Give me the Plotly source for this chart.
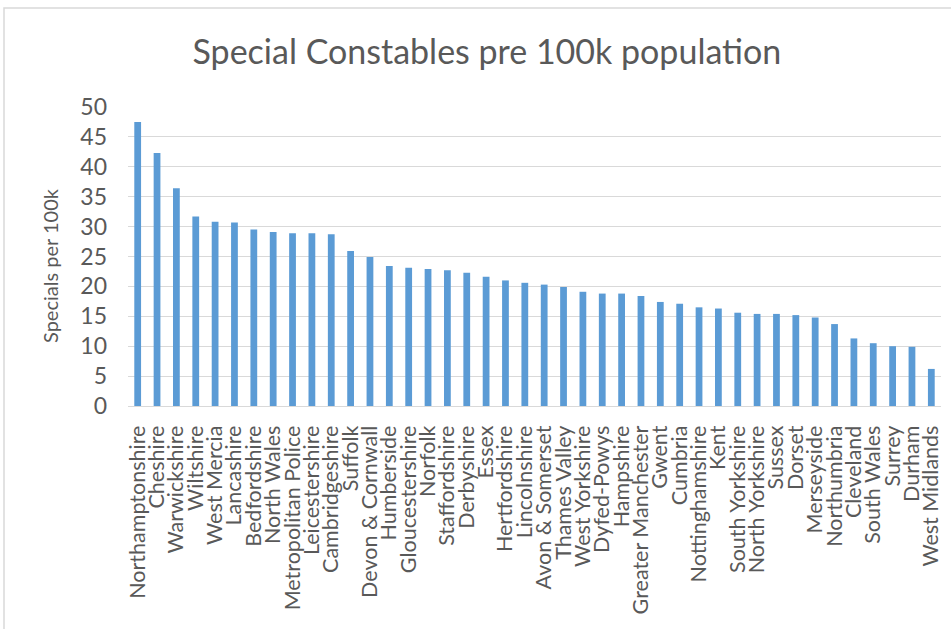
import plotly.graph_objects as go

# Police force areas, ordered from highest to lowest rate
forces = [
    "Northamptonshire", "Cheshire", "Warwickshire", "Wiltshire", "West Mercia",
    "Lancashire", "Bedfordshire", "North Wales", "Metropolitan Police",
    "Leicestershire", "Cambridgeshire", "Suffolk", "Devon & Cornwall",
    "Humberside", "Gloucestershire", "Norfolk", "Staffordshire", "Derbyshire",
    "Essex", "Hertfordshire", "Lincolnshire", "Avon & Somerset", "Thames Valley",
    "West Yorkshire", "Dyfed-Powys", "Hampshire", "Greater Manchester", "Gwent",
    "Cumbria", "Nottinghamshire", "Kent", "South Yorkshire", "North Yorkshire",
    "Sussex", "Dorset", "Merseyside", "Northumbria", "Cleveland", "South Wales",
    "Surrey", "Durham", "West Midlands",
]

# Special constables per 100k population
specials_per_100k = [
    47.5, 42.3, 36.4, 31.7, 30.8,
    30.7, 29.5, 29.1, 28.9,
    28.9, 28.7, 25.9, 24.9,
    23.4, 23.1, 22.9, 22.7, 22.3,
    21.6, 21.0, 20.6, 20.3, 19.9,
    19.1, 18.8, 18.8, 18.4, 17.4,
    17.1, 16.5, 16.3, 15.6, 15.4,
    15.4, 15.2, 14.8, 13.7, 11.3, 10.5,
    10.0, 9.9, 6.2,
]

y_ticks = [0, 5, 10, 15, 20, 25, 30, 35, 40, 45, 50]

TEXT = "#595959"
GRID = "#d9d9d9"
BAR = "#5b9bd5"
FONT = "Lato, 'Open Sans', sans-serif"

# Plot-area geometry in pixels, used for the frame and the axis title
PLOT_L, PLOT_R, PLOT_T, PLOT_B = 128, 941, 107, 406
PLOT_W, PLOT_H = PLOT_R - PLOT_L, PLOT_B - PLOT_T

fig = go.Figure(
    go.Bar(
        x=forces,
        y=specials_per_100k,
        marker=dict(color=BAR, line=dict(width=0)),
    )
)

fig.update_layout(
    width=951,
    height=629,
    margin=dict(l=PLOT_L, r=951 - PLOT_R, t=PLOT_T, b=629 - PLOT_B, autoexpand=False),
    paper_bgcolor="white",
    plot_bgcolor="white",
    bargap=0.65,
    showlegend=False,
    font=dict(family=FONT, color=TEXT),
    title=dict(
        text="Special Constables pre 100k population",
        font=dict(family=FONT, size=34, color=TEXT),
        x=0.512,
        xref="container",
        xanchor="center",
        y=1 - 52 / 629,
        yref="container",
        yanchor="middle",
    ),
    xaxis=dict(
        automargin=False,
        tickmode="array",
        tickvals=forces,
        ticktext=forces,
        tickangle=-90,
        tickfont=dict(family=FONT, size=21.5, color=TEXT),
        showgrid=False,
        showline=True,
        linecolor=GRID,
        linewidth=1,
        ticks="",
        ticklabelstandoff=10,
    ),
    yaxis=dict(
        automargin=False,
        range=[0, 50],
        tickvals=y_ticks,
        tickfont=dict(family=FONT, size=23, color=TEXT),
        showgrid=True,
        gridcolor=GRID,
        gridwidth=1,
        zeroline=False,
        showline=False,
        ticks="",
        ticklabelstandoff=20,
    ),
    annotations=[
        dict(
            text="Specials per 100k",
            xref="paper",
            yref="paper",
            x=(50 - PLOT_L) / PLOT_W,
            y=(PLOT_B - 266) / PLOT_H,
            xanchor="center",
            yanchor="middle",
            textangle=-90,
            showarrow=False,
            font=dict(family=FONT, size=20, color=TEXT),
        )
    ],
    shapes=[
        dict(
            type="rect",
            xref="paper",
            yref="paper",
            x0=(4 - PLOT_L) / PLOT_W,
            x1=1.2,
            y0=-1.5,
            y1=(PLOT_B - 8) / PLOT_H,
            line=dict(color=GRID, width=1.5),
            fillcolor="rgba(0,0,0,0)",
            layer="below",
        )
    ],
)

fig.write_html("out.html")
